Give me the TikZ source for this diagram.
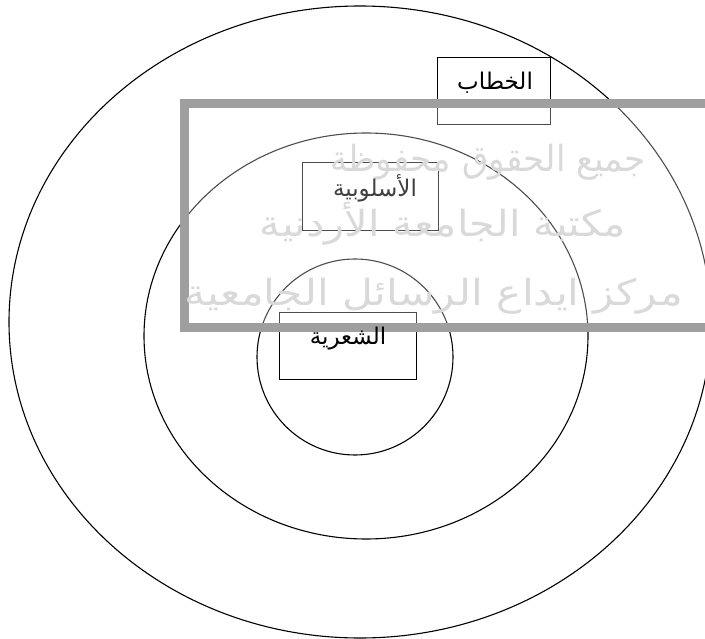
\documentclass[tikz,border=0pt]{standalone}
\usepackage{fontspec}
\newfontfamily\arabicfont[Script=Arabic]{DejaVu Sans}
\TeXXeTstate=1
\usetikzlibrary{positioning}

\begin{document}
\begin{tikzpicture}[x=1pt, y=-1pt,
    ring/.style={line width=1.1pt},
    termbox/.style={draw, line width=0.9pt, inner sep=0pt},
    termtext/.style={font=\arabicfont\fontsize{23}{27}\selectfont, inner sep=0pt},
    marktext/.style={font=\arabicfont\fontsize{36}{42}\selectfont, text=gray!30, inner sep=0pt}]

    \useasboundingbox (0,0) rectangle (705,639);

    % the three rings
    \draw[ring] (360,322) ellipse [x radius=351, y radius=316];
    \draw[ring] (366,336) ellipse [x radius=222, y radius=203];
    \draw[ring] (355,357) circle [radius=98];

    % term boxes
    \node[termbox, minimum width=113, minimum height=67] (khitab) at (493.5,90.5) {};
    \node[termbox, minimum width=136, minimum height=68] (uslub) at (370,196) {};
    \node[termbox, minimum width=137, minimum height=67] (shir) at (347.5,345.5) {};

    % watermark laid over the picture
    \fill[white, opacity=0.3] (184,104) rectangle (709,328);
    \draw[gray!75, line width=9pt] (184,104) rectangle (709,328);
    \node[marktext, xscale=0.95] (markA) at (488,162) {\beginR جميع الحقوق محفوظة\endR};
    \node[marktext, xscale=1.15] (markB) at (443,224) {\beginR مكتبة الجامعة الأردنية\endR};
    \node[marktext, xscale=1.18] (markC) at (434,296) {\beginR مركز ايداع الرسائل الجامعية\endR};

    % term labels
    \node[termtext] (khitabT) at (495,83) {\beginR الخطاب\endR};
    \node[termtext, text=black!75] (uslubT) at (375,188) {\beginR الأسلوبية\endR};
    \node[termtext] (shirT) at (348,339) {\beginR الشعرية\endR};

\end{tikzpicture}
\end{document}
